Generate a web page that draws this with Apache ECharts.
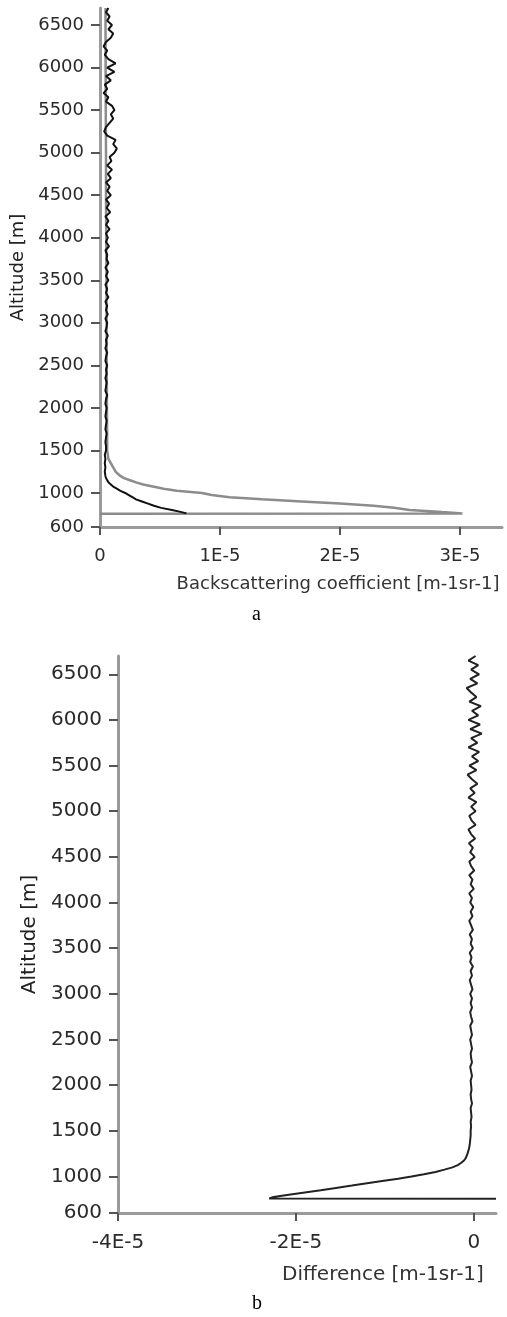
<!DOCTYPE html>
<html>
<head>
<meta charset="utf-8">
<title>Backscattering profile</title>
<script src="https://cdn.jsdelivr.net/npm/echarts@6.0.0/dist/echarts.min.js"></script>
<style>
  html, body { margin: 0; padding: 0; background: #fff; }
  #app { width: 507px; height: 1317px; }
</style>
</head>
<body>
<div id="app"></div>
<script>
// values below are in units of 1E-5 m-1sr-1
const UNIT = 1e-5;

// altitude grid [m] shared by the black profile and the difference
const altitude = [
  755, 760, 775, 800, 825, 850, 875, 900, 925, 950, 975, 1000, 1025, 1050, 1075,
  1100, 1125, 1150, 1175, 1200, 1250, 1300, 1350, 1400, 1450, 1500,
  1550, 1600, 1650, 1700, 1750, 1800, 1850, 1900, 1950, 2000,
  2050, 2100, 2150, 2200, 2250, 2300, 2350, 2400, 2450, 2500,
  2550, 2600, 2650, 2700, 2750, 2800, 2850, 2900, 2950, 3000,
  3050, 3100, 3150, 3200, 3250, 3300, 3350, 3400, 3450, 3500,
  3550, 3600, 3650, 3700, 3750, 3800, 3850, 3900, 3950, 4000,
  4050, 4100, 4150, 4200, 4250, 4300, 4350, 4400, 4450, 4500,
  4550, 4600, 4650, 4700, 4750, 4800, 4850, 4900, 4950, 5000,
  5050, 5100, 5150, 5200, 5250, 5300, 5350, 5400, 5450, 5500,
  5550, 5600, 5650, 5700, 5750, 5800, 5850, 5900, 5950, 6000,
  6050, 6100, 6150, 6200, 6250, 6300, 6350, 6400, 6450, 6500,
  6550, 6600, 6650, 6700
];

// black (noisy) backscatter profile, null = no point at that altitude
const backscatterBlack = [
  null, 0.72, 0.68, 0.60, 0.51, 0.45, 0.40, 0.35, 0.30, 0.27, 0.24, 0.21, 0.17, 0.14, 0.11,
  0.09, 0.07, 0.06, 0.05, 0.045, 0.04, 0.045, 0.04, 0.045, 0.04, 0.05,
  0.05, 0.045, 0.05, 0.055, 0.045, 0.05, 0.055, 0.045, 0.05, 0.055,
  0.045, 0.05, 0.06, 0.045, 0.05, 0.055, 0.045, 0.055, 0.05, 0.06,
  0.045, 0.05, 0.06, 0.045, 0.055, 0.05, 0.065, 0.045, 0.055, 0.06,
  0.045, 0.065, 0.05, 0.06, 0.045, 0.07, 0.05, 0.06, 0.045, 0.07,
  0.05, 0.065, 0.045, 0.07, 0.055, 0.06, 0.045, 0.075, 0.05, 0.065,
  0.05, 0.08, 0.05, 0.07, 0.045, 0.085, 0.055, 0.075, 0.05, 0.09,
  0.06, 0.08, 0.05, 0.09, 0.065, 0.10, 0.06, 0.095, 0.08, 0.12,
  0.14, 0.11, 0.13, 0.06, 0.035, 0.05, 0.08, 0.11, 0.09, 0.12,
  0.10, 0.05, 0.07, 0.03, 0.06, 0.04, 0.09, 0.05, 0.12, 0.06,
  0.13, 0.07, 0.04, 0.06, 0.03, 0.05, 0.09, 0.11, 0.07, 0.10,
  0.06, 0.08, 0.05, 0.07
];

// grey (smooth) backscatter profile on its own altitude grid
const altitudeGrey = [
  755, 760, 775, 800, 825, 850, 875, 900, 925, 950, 975, 1000, 1025, 1050, 1075,
  1100, 1125, 1150, 1175, 1200, 1250, 1300, 1350, 1400, 1450, 1500,
  1600, 2000, 2500, 3000, 3500, 4000, 4500, 5000, 5500, 6000, 6500, 6700
];
const backscatterGrey = [
  0, 3.02, 2.85, 2.58, 2.45, 2.28, 2.0, 1.68, 1.35, 1.08, 0.93, 0.85, 0.64, 0.53, 0.44,
  0.36, 0.30, 0.25, 0.20, 0.17, 0.13, 0.11, 0.09, 0.07, 0.065, 0.06,
  0.06, 0.058, 0.056, 0.055, 0.054, 0.052, 0.05, 0.05, 0.048, 0.047, 0.046, 0.046
];

// difference profile (panel b)
const difference = [
  0.25, -2.3, -2.25, -2.08, -1.9, -1.72, -1.55, -1.37, -1.2, -1.03, -0.85, -0.7, -0.56, -0.43, -0.33,
  -0.24, -0.18, -0.14, -0.11, -0.09, -0.07, -0.055, -0.045, -0.04, -0.035, -0.035,
  -0.03, -0.035, -0.025, -0.03, -0.035, -0.02, -0.03, -0.035, -0.025, -0.03,
  -0.035, -0.02, -0.03, -0.04, -0.02, -0.03, -0.035, -0.02, -0.03, -0.04,
  -0.02, -0.03, -0.04, -0.015, -0.03, -0.04, -0.02, -0.035, -0.02, -0.04,
  -0.015, -0.03, -0.045, -0.02, -0.035, -0.01, -0.04, -0.025, -0.045, -0.01,
  -0.035, -0.02, -0.045, -0.01, -0.03, -0.05, -0.015, -0.035, -0.005, -0.04,
  -0.02, -0.05, 0.0, -0.035, -0.015, -0.05, 0.005, -0.03, -0.05, 0.01,
  -0.04, -0.01, -0.055, 0.015, -0.03, -0.06, 0.02, -0.025, -0.05, 0.02,
  -0.03, 0.03, -0.06, 0.01, -0.04, 0.04, -0.02, -0.07, 0.03, -0.05,
  0.05, -0.02, 0.06, -0.06, 0.04, -0.03, 0.09, -0.04, 0.07, -0.06,
  0.05, -0.02, 0.08, -0.05, 0.03, -0.03, -0.08, 0.04, -0.04, 0.06,
  -0.03, 0.05, -0.06, 0.02
];

// tick labels
const altitudeTicks = [600, 1000, 1500, 2000, 2500, 3000, 3500, 4000, 4500, 5000, 5500, 6000, 6500];
const backscatterTicks = [0, 1, 2, 3];
const differenceTicks = [-4, -2, 0];

(function() {
  const FONT = "DejaVu Sans";

  /**
   * pairs [value, altitude] for a line drawn against the vertical altitude axis
   */
  function toPoints(values, alts) {
    const pts = [];
    values.forEach((v, i) => {
      if (v !== null) {
        pts.push([v * UNIT, alts[i]]);
      }
    });
    return pts;
  }

  function fmtE(v) {
    const n = Math.round(v / UNIT);
    return n === 0 ? "0" : n + "E-5";
  }

  function xAxis(gridIndex, min, max, ticks, name, nameGap, shift, size) {
    const vals = ticks.map(t => t * UNIT);
    return {
      type: "value",
      gridIndex,
      min,
      max,
      splitLine: { show: false },
      axisLine: { show: true, onZero: false, lineStyle: { color: "#9a9a9a", width: 3 } },
      axisTick: {
        show: true,
        customValues: vals,
        length: 8,
        lineStyle: { color: "#555", width: 2 }
      },
      axisLabel: {
        customValues: vals,
        formatter: fmtE,
        margin: 20,
        fontFamily: FONT,
        fontSize: size,
        color: "#2a2a2a"
      },
      name,
      nameLocation: "middle",
      nameGap,
      nameTextStyle: {
        fontFamily: FONT,
        fontSize: size,
        color: "#333",
        padding: [0, 0, 0, shift]
      }
    };
  }

  function yAxis(gridIndex, nameGap, size) {
    return {
      type: "value",
      gridIndex,
      min: 600,
      max: 6700,
      splitLine: { show: false },
      axisLine: { show: true, onZero: false, lineStyle: { color: "#9a9a9a", width: 3 } },
      axisTick: {
        show: true,
        customValues: altitudeTicks,
        length: 9,
        lineStyle: { color: "#555", width: 2 }
      },
      axisLabel: {
        customValues: altitudeTicks,
        formatter: v => String(v),
        margin: 16,
        fontFamily: FONT,
        fontSize: size,
        color: "#2a2a2a"
      },
      name: "Altitude [m]",
      nameLocation: "middle",
      nameGap,
      nameTextStyle: { fontFamily: FONT, fontSize: size, color: "#222" }
    };
  }

  const myChart = echarts.init(document.getElementById("app"), null, { renderer: "canvas" });
  const option = {
    animation: false,
    backgroundColor: "#fff",
    grid: [
      { left: 100, top: 8, width: 402, height: 519 },
      { left: 118, top: 656, width: 378, height: 557 }
    ],
    xAxis: [
      xAxis(0, 0, 3.35e-5, backscatterTicks, "Backscattering coefficient [m-1sr-1]", 48, 74, 18),
      xAxis(1, -4e-5, 0.25e-5, differenceTicks, "Difference [m-1sr-1]", 52, 152, 20)
    ],
    yAxis: [yAxis(0, 71, 18), yAxis(1, 77, 20)],
    graphic: [
      {
        type: "text",
        left: 252,
        top: 605,
        style: { text: "a", font: "20px 'Liberation Serif'", fill: "#000" }
      },
      {
        type: "text",
        left: 252,
        top: 1294,
        style: { text: "b", font: "20px 'Liberation Serif'", fill: "#000" }
      }
    ],
    series: [
      {
        type: "line",
        xAxisIndex: 0,
        yAxisIndex: 0,
        showSymbol: false,
        data: toPoints(backscatterGrey, altitudeGrey),
        lineStyle: { color: "#8c8c8c", width: 2.5 }
      },
      {
        type: "line",
        xAxisIndex: 0,
        yAxisIndex: 0,
        showSymbol: false,
        data: toPoints(backscatterBlack, altitude),
        lineStyle: { color: "#111", width: 2 }
      },
      {
        type: "line",
        xAxisIndex: 1,
        yAxisIndex: 1,
        showSymbol: false,
        data: toPoints(difference, altitude),
        lineStyle: { color: "#222", width: 2 }
      }
    ]
  };
  myChart.setOption(option);
})();
</script>
</body>
</html>
